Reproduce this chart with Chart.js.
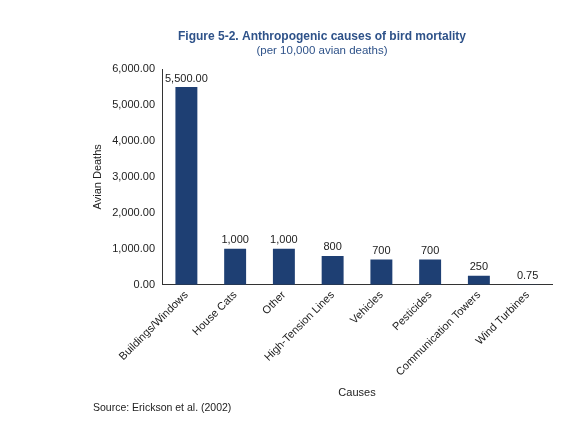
<!DOCTYPE html>
<html>
<head>
<meta charset="utf-8">
<script src="https://cdn.jsdelivr.net/npm/chart.js@4/dist/chart.umd.min.js"></script>
<style>
  html, body { margin: 0; padding: 0; background: #fff; }
  #wrap { width: 574px; height: 422px; position: relative; }
</style>
</head>
<body>
<div id="wrap"><canvas id="chart"></canvas></div>
<script>
const causes = ["Buildings/Windows", "House Cats", "Other", "High-Tension Lines", "Vehicles", "Pesticides", "Communication Towers", "Wind Turbines"];
const deaths = [5500, 1000, 1000, 800, 700, 700, 250, 0.75];
const valueLabels = ["5,500.00", "1,000", "1,000", "800", "700", "700", "250", "0.75"];

const titleText = "Figure 5-2. Anthropogenic causes of bird mortality";
const subtitleText = "(per 10,000 avian deaths)";
const sourceText = "Source: Erickson et al. (2002)";

const FONT = "Liberation Sans, Arial, sans-serif";
const BLUE = "#1e3f73";
const TITLE_BLUE = "#2e5289";

// value labels above bars
const barLabels = {
  id: "barLabels",
  afterDatasetsDraw(chart) {
    const ctx = chart.ctx;
    const meta = chart.getDatasetMeta(0);
    ctx.save();
    ctx.font = "11px " + FONT;
    ctx.fillStyle = "#222";
    ctx.textAlign = "center";
    ctx.textBaseline = "bottom";
    meta.data.forEach((bar, i) => {
      ctx.fillText(valueLabels[i], bar.x, bar.y - 3);
    });
    ctx.restore();
  }
};

// headings and source note
const notes = {
  id: "notes",
  afterDraw(chart) {
    const ctx = chart.ctx;
    ctx.save();
    ctx.fillStyle = TITLE_BLUE;
    ctx.textAlign = "center";
    ctx.textBaseline = "middle";
    ctx.font = "bold 12px " + FONT;
    ctx.fillText(titleText, 322, 37);
    ctx.font = "11.5px " + FONT;
    ctx.fillText(subtitleText, 322, 51);
    ctx.fillStyle = "#222";
    ctx.textAlign = "left";
    ctx.font = "10.5px " + FONT;
    ctx.fillText(sourceText, 93, 408);
    ctx.restore();
  }
};

new Chart(document.getElementById("chart"), {
  type: "bar",
  data: {
    labels: causes,
    datasets: [{
      data: deaths,
      backgroundColor: BLUE,
      borderWidth: 0,
      categoryPercentage: 1,
      barPercentage: 0.45
    }]
  },
  options: {
    responsive: true,
    maintainAspectRatio: false,
    animation: false,
    layout: { padding: { left: 91, right: 22, top: 69, bottom: 22 } },
    plugins: {
      legend: { display: false },
      tooltip: { enabled: false }
    },
    scales: {
      x: {
        grid: { display: false, drawTicks: false },
        border: { display: true, color: "#333", width: 1 },
        ticks: {
          color: "#222",
          font: { family: FONT, size: 11 },
          maxRotation: 45,
          minRotation: 45,
          padding: 4
        },
        title: {
          display: true,
          text: "Causes",
          color: "#222",
          font: { family: FONT, size: 11 },
          padding: { top: 4, bottom: 0 }
        }
      },
      y: {
        min: 0,
        max: 6000,
        grid: { display: false, drawTicks: true, tickLength: 5, tickColor: "#333" },
        border: { display: true, color: "#333", width: 1 },
        ticks: {
          stepSize: 1000,
          color: "#222",
          font: { family: FONT, size: 11 },
          padding: 2,
          callback: (v) => v.toLocaleString("en-US", { minimumFractionDigits: 2, maximumFractionDigits: 2 })
        },
        title: {
          display: true,
          text: "Avian Deaths",
          color: "#222",
          font: { family: FONT, size: 11 },
          padding: { top: 0, bottom: 6 }
        }
      }
    }
  },
  plugins: [barLabels, notes]
});
</script>
</body>
</html>
